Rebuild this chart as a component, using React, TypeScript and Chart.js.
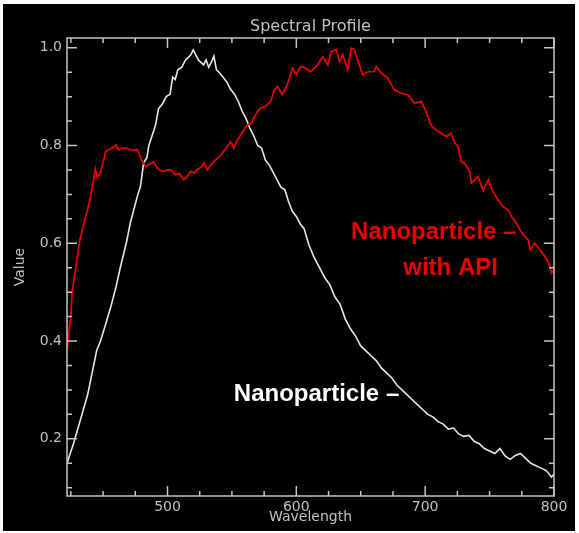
import React, { useEffect, useRef } from "react";
import { Chart, registerables } from "chart.js";

Chart.register(...registerables);

// ---------- data ----------
const nanoWavelength = [
  422, 427, 432, 438, 445, 448, 453, 456, 460, 463.5, 468, 471, 474, 477, 479, 481.5, 484, 485.5, 489.5,
  491, 493, 496, 499, 502, 504, 506, 508, 511, 514, 516, 518, 520, 522, 524, 526, 528, 530, 532, 534, 536,
  538, 540, 543, 546, 549, 552, 555, 558, 561, 564, 567, 570, 573, 576, 579, 582, 585, 588, 591, 594, 597,
  600, 603, 606, 610, 614, 618, 622, 626, 630, 634, 638, 642, 646, 650, 654, 658, 662, 666, 670, 674, 678,
  682, 686, 690, 694, 698, 702, 706, 710, 714, 718, 722, 726, 730, 734, 738, 742, 746, 750, 754, 758, 762,
  766, 770, 774, 778, 782, 786, 790, 794, 798, 800,
];
const nanoValue = [
  0.15, 0.19, 0.235, 0.29, 0.38, 0.4, 0.443, 0.47, 0.51, 0.552, 0.6, 0.64, 0.67, 0.7, 0.716, 0.765, 0.775,
  0.8, 0.832, 0.845, 0.875, 0.885, 0.9, 0.905, 0.94, 0.935, 0.955, 0.96, 0.975, 0.98, 0.985, 0.996, 0.985,
  0.975, 0.97, 0.965, 0.975, 0.96, 0.97, 0.983, 0.955, 0.95, 0.94, 0.93, 0.915, 0.905, 0.89, 0.87, 0.855,
  0.835, 0.82, 0.8, 0.795, 0.77, 0.76, 0.745, 0.73, 0.715, 0.71, 0.685, 0.665, 0.655, 0.64, 0.63, 0.595,
  0.57, 0.55, 0.53, 0.515, 0.49, 0.475, 0.445, 0.425, 0.41, 0.39, 0.38, 0.37, 0.36, 0.345, 0.335, 0.325,
  0.31, 0.3, 0.29, 0.28, 0.27, 0.26, 0.25, 0.245, 0.235, 0.23, 0.22, 0.222, 0.21, 0.205, 0.207, 0.195, 0.19,
  0.18, 0.175, 0.17, 0.18, 0.165, 0.158, 0.166, 0.17, 0.16, 0.15, 0.145, 0.14, 0.135, 0.122, 0.128,
];

const apiWavelength = [
  422, 423.5, 425, 426, 432, 436, 440, 444, 445.5, 448, 451, 452, 454, 457, 460, 462, 465, 468.5, 472,
  476.5, 480, 483, 485.5, 489, 492, 495, 497, 500, 502.5, 506, 509, 512.5, 515, 518, 521, 523, 526, 528.5,
  531, 533.5, 536, 539, 541.5, 544, 546.5, 549, 551.5, 554, 557, 560, 562, 565, 567, 570, 572.5, 576, 580,
  583, 585.5, 589, 593, 597, 600, 603.5, 607.5, 611, 616.5, 620.5, 624.5, 627, 631, 633.5, 636, 640, 642.5,
  645, 648, 651.5, 655.5, 660.5, 662, 666, 671, 676, 681.5, 686.5, 691.5, 697, 700.5, 704.5, 708.5, 712.5,
  716.5, 720, 723, 725.5, 728, 730.5, 734.5, 736, 738.5, 741, 745, 749, 752.5, 756.5, 760.5, 764.5, 767,
  771, 775, 780, 781.5, 785, 789, 793, 797, 798, 800,
];
const apiValue = [
  0.38, 0.42, 0.45, 0.5, 0.607, 0.65, 0.69, 0.752, 0.734, 0.745, 0.775, 0.788, 0.791, 0.795, 0.801, 0.791,
  0.795, 0.795, 0.79, 0.791, 0.77, 0.757, 0.761, 0.767, 0.754, 0.748, 0.747, 0.75, 0.75, 0.74, 0.743, 0.73,
  0.735, 0.747, 0.744, 0.75, 0.756, 0.764, 0.75, 0.76, 0.767, 0.775, 0.781, 0.79, 0.798, 0.808, 0.795, 0.81,
  0.822, 0.835, 0.842, 0.845, 0.856, 0.87, 0.877, 0.88, 0.89, 0.914, 0.921, 0.904, 0.924, 0.958, 0.945,
  0.962, 0.958, 0.951, 0.965, 0.982, 0.965, 0.992, 0.996, 0.972, 0.986, 0.955, 0.999, 0.996, 0.972, 0.945,
  0.951, 0.951, 0.962, 0.948, 0.938, 0.914, 0.907, 0.904, 0.887, 0.89, 0.87, 0.842, 0.832, 0.825, 0.818,
  0.825, 0.805, 0.798, 0.767, 0.764, 0.747, 0.723, 0.73, 0.737, 0.709, 0.73, 0.706, 0.689, 0.675, 0.668,
  0.655, 0.641, 0.621, 0.607, 0.587, 0.6, 0.587, 0.573, 0.553, 0.539, 0.546,
];

const xTickValues = [500, 600, 700, 800];
const yTickValues = [0.2, 0.4, 0.6, 0.8, 1.0];
const xMinorTicks = [425, 450, 475, 500, 525, 550, 575, 600, 625, 650, 675, 700, 725, 750, 775, 800];
const yMinorTicks = [0.1, 0.15, 0.2, 0.25, 0.3, 0.35, 0.4, 0.45, 0.5, 0.55, 0.6, 0.65, 0.7, 0.75, 0.8, 0.85, 0.9, 0.95, 1.0];

const X_MIN = 422;
const X_MAX = 800;
const Y_MIN = 0.083;
const Y_MAX = 1.02;

const TITLE = "Spectral Profile";
const X_TITLE = "Wavelength";
const Y_TITLE = "Value";
const API_LABEL_LINE1 = "Nanoparticle \u2013";
const API_LABEL_LINE2 = "with API";
const NANO_LABEL = "Nanoparticle \u2013";
// label anchors in data units
const apiLabel1At = { x: 642.5, y: 0.609 };
const apiLabel2At = { x: 683, y: 0.535 };
const nanoLabelAt = { x: 551.5, y: 0.277 };

const AXIS_COLOR = "#c4c4c4";
const TEXT_COLOR = "#c0c0c0";
const AXIS_FONT = "DejaVu Sans";

const framePlugin = {
  id: "idlFrame",
  beforeDraw(chart: any) {
    const { ctx } = chart;
    ctx.save();
    ctx.fillStyle = "#000";
    ctx.fillRect(3, 4, 572, 527);
    ctx.restore();
  },
  afterDraw(chart: any) {
    const { ctx, chartArea, scales } = chart;
    const { left, right, top, bottom } = chartArea;
    const xs = scales.x;
    const ys = scales.y;
    ctx.save();
    ctx.strokeStyle = AXIS_COLOR;
    ctx.lineWidth = 1.5;
    ctx.strokeRect(left, top, right - left, bottom - top);
    ctx.beginPath();
    xMinorTicks.forEach((v) => {
      const px = xs.getPixelForValue(v);
      const len = xTickValues.includes(v) ? 10 : 5;
      ctx.moveTo(px, bottom);
      ctx.lineTo(px, bottom - len);
      ctx.moveTo(px, top);
      ctx.lineTo(px, top + len);
    });
    yMinorTicks.forEach((v) => {
      const py = ys.getPixelForValue(v);
      const len = yTickValues.some((t) => Math.abs(t - v) < 1e-6) ? 10 : 5;
      ctx.moveTo(left, py);
      ctx.lineTo(left + len, py);
      ctx.moveTo(right, py);
      ctx.lineTo(right - len, py);
    });
    ctx.stroke();

    // title
    ctx.fillStyle = TEXT_COLOR;
    ctx.font = `16px "${AXIS_FONT}"`;
    ctx.textAlign = "center";
    ctx.textBaseline = "middle";
    ctx.fillText(TITLE, (left + right) / 2, 27);

    // annotations
    ctx.font = `bold 24px "Liberation Sans"`;
    ctx.textAlign = "left";
    ctx.textBaseline = "alphabetic";
    ctx.fillStyle = "#ee0000";
    ctx.fillText(API_LABEL_LINE1, xs.getPixelForValue(apiLabel1At.x), ys.getPixelForValue(apiLabel1At.y));
    ctx.fillText(API_LABEL_LINE2, xs.getPixelForValue(apiLabel2At.x), ys.getPixelForValue(apiLabel2At.y));
    ctx.fillStyle = "#ffffff";
    ctx.fillText(NANO_LABEL, xs.getPixelForValue(nanoLabelAt.x), ys.getPixelForValue(nanoLabelAt.y));
    ctx.restore();
  },
};

export default function App() {
  const canvasRef = useRef<HTMLCanvasElement | null>(null);

  useEffect(() => {
    const canvas = canvasRef.current;
    if (!canvas) return;
    const nanoPoints = nanoWavelength.map((x, i) => ({ x, y: nanoValue[i] }));
    const apiPoints = apiWavelength.map((x, i) => ({ x, y: apiValue[i] }));
    const chart = new Chart(canvas, {
      type: "line",
      data: {
        datasets: [
          {
            label: "Nanoparticle with API",
            data: apiPoints,
            borderColor: "#ee0000",
            borderWidth: 1.7,
            pointRadius: 0,
            tension: 0,
          },
          {
            label: "Nanoparticle",
            data: nanoPoints,
            borderColor: "#e6e6e6",
            borderWidth: 1.6,
            pointRadius: 0,
            tension: 0,
          },
        ],
      },
      options: {
        animation: false,
        responsive: false,
        devicePixelRatio: 1,
        layout: { padding: { left: 0, top: 38, right: 25, bottom: 0 } },
        plugins: {
          legend: { display: false },
          tooltip: { enabled: false },
          title: { display: false },
        },
        scales: {
          x: {
            type: "linear",
            position: "bottom",
            min: X_MIN,
            max: X_MAX,
            grid: { display: false, drawTicks: false },
            border: { display: false },
            afterBuildTicks: (s: any) => {
              s.ticks = xTickValues.map((v) => ({ value: v }));
            },
            afterFit: (s: any) => {
              s.height = 37;
            },
            ticks: {
              color: TEXT_COLOR,
              font: { family: AXIS_FONT, size: 14 },
              padding: 3,
              maxRotation: 0,
              autoSkip: false,
              callback: (v: any) => String(v),
            },
            title: {
              display: true,
              text: X_TITLE,
              color: TEXT_COLOR,
              font: { family: AXIS_FONT, size: 14 },
              padding: { top: 0, bottom: 7 },
            },
          },
          y: {
            type: "linear",
            position: "left",
            min: Y_MIN,
            max: Y_MAX,
            grid: { display: false, drawTicks: false },
            border: { display: false },
            afterBuildTicks: (s: any) => {
              s.ticks = yTickValues.map((v) => ({ value: v }));
            },
            afterFit: (s: any) => {
              s.width = 67;
            },
            ticks: {
              color: TEXT_COLOR,
              font: { family: AXIS_FONT, size: 14 },
              padding: 5,
              autoSkip: false,
              callback: (v: any) => Number(v).toFixed(1),
            },
            title: {
              display: true,
              text: Y_TITLE,
              color: TEXT_COLOR,
              font: { family: AXIS_FONT, size: 14 },
              padding: { top: 12, bottom: 0 },
            },
          },
        },
      },
      plugins: [framePlugin],
    });
    return () => chart.destroy();
  }, []);

  return (
    <div style={{ position: "fixed", left: 0, top: 0, width: 579, height: 533, background: "#fff" }}>
      <canvas ref={canvasRef} width={579} height={533} style={{ display: "block", width: 579, height: 533 }} />
    </div>
  );
}
